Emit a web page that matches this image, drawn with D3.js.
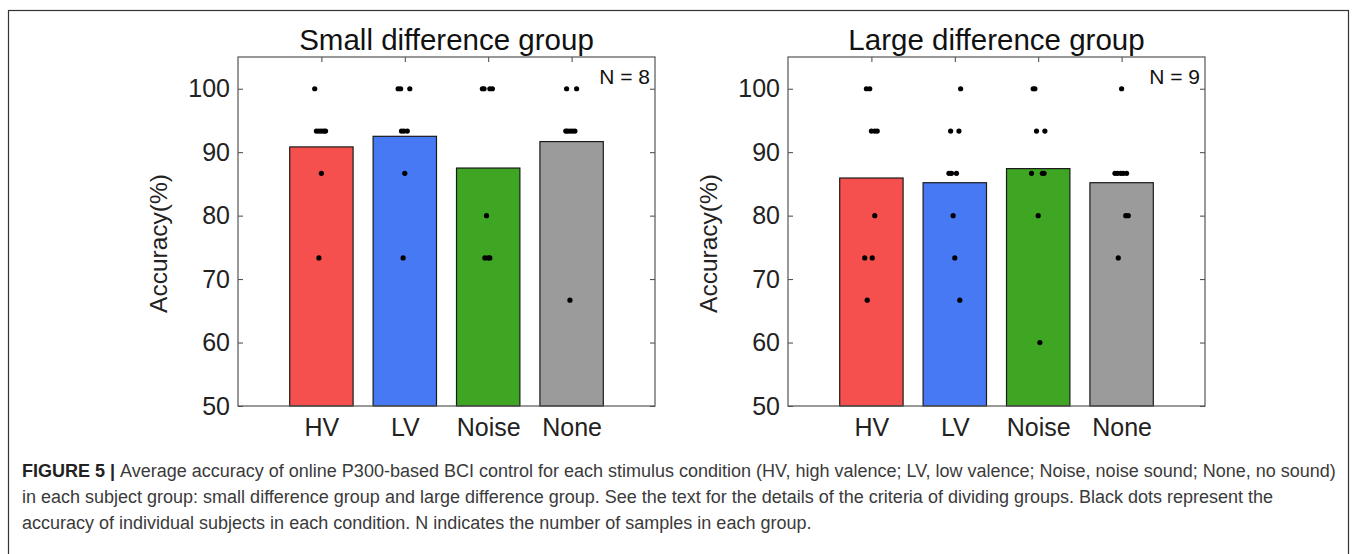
<!DOCTYPE html>
<html>
<head>
<meta charset="utf-8">
<script src="https://cdn.jsdelivr.net/npm/d3@7"></script>
<style>
  body { margin: 0; background: #fff; }
  svg { display: block; }
</style>
</head>
<body>
<script>
const categories = ["HV", "LV", "Noise", "None"];
const barColors = ["#f5504e", "#4879f5", "#3fa624", "#9b9b9b"];
const yTicks = [50, 60, 70, 80, 90, 100];

// group means (%)
const smallMeans = [90.83, 92.5, 87.5, 91.67];
const largeMeans = [85.93, 85.19, 87.41, 85.19];

// individual subjects: [category index, accuracy, x jitter in category units]
const smallSubjects = [
  [0, 100, -0.08], [0, 93.33, -0.06], [0, 93.33, -0.03], [0, 93.33, 0], [0, 93.33, 0.03], [0, 93.33, 0.05],
  [0, 86.67, 0], [0, 73.33, -0.03],
  [1, 100, -0.08], [1, 100, -0.05], [1, 100, 0.06], [1, 93.33, -0.04], [1, 93.33, -0.01], [1, 93.33, 0.03],
  [1, 86.67, 0], [1, 73.33, -0.02],
  [2, 100, -0.07], [2, 100, -0.05], [2, 100, 0.02], [2, 100, 0.05], [2, 80, -0.02],
  [2, 73.33, -0.04], [2, 73.33, 0], [2, 73.33, 0.02],
  [3, 100, -0.06], [3, 100, 0.06], [3, 93.33, -0.07], [3, 93.33, -0.05], [3, 93.33, -0.02], [3, 93.33, 0.01],
  [3, 93.33, 0.04], [3, 66.67, -0.02]
];
const largeSubjects = [
  [0, 100, -0.06], [0, 100, -0.02], [0, 93.33, 0], [0, 93.33, 0.04], [0, 93.33, 0.07], [0, 80, 0.04],
  [0, 73.33, -0.08], [0, 73.33, 0.01], [0, 66.67, -0.05],
  [1, 100, 0.07], [1, 93.33, -0.05], [1, 93.33, 0.05], [1, 86.67, -0.07], [1, 86.67, -0.04], [1, 86.67, 0.02],
  [1, 80, -0.02], [1, 73.33, 0], [1, 66.67, 0.06],
  [2, 100, -0.06], [2, 100, -0.04], [2, 93.33, -0.02], [2, 93.33, 0.08], [2, 86.67, -0.08], [2, 86.67, 0.05],
  [2, 86.67, 0.07], [2, 80, 0], [2, 60, 0.02],
  [3, 100, 0], [3, 86.67, -0.08], [3, 86.67, -0.05], [3, 86.67, -0.01], [3, 86.67, 0.02], [3, 86.67, 0.06],
  [3, 80, 0.05], [3, 80, 0.08], [3, 73.33, -0.04]
];

const panels = [
  { title: "Small difference group", n: "N = 8", means: smallMeans, subjects: smallSubjects, left: 238 },
  { title: "Large difference group", n: "N = 9", means: largeMeans, subjects: largeSubjects, left: 788 }
];

const captionLines = [
  "Average accuracy of online P300-based BCI control for each stimulus condition (HV, high valence; LV, low valence; Noise, noise sound; None, no sound)",
  "in each subject group: small difference group and large difference group. See the text for the details of the criteria of dividing groups. Black dots represent the",
  "accuracy of individual subjects in each condition. N indicates the number of samples in each group."
];

const W = 1357, H = 554;
const font = "'Liberation Sans', Arial, sans-serif";

const svg = d3.select("body").append("svg").attr("width", W).attr("height", H);

// outer frame
svg.append("rect")
  .attr("x", 8.5).attr("y", 10.5)
  .attr("width", 1340).attr("height", 560)
  .attr("fill", "none").attr("stroke", "#333").attr("stroke-width", 1.2);

const plotW = 417, plotTop = 57, plotBottom = 406;

panels.forEach((p) => {
  const x = d3.scaleLinear().domain([0, 5]).range([p.left, p.left + plotW]);
  const y = d3.scaleLinear().domain([50, 105]).range([plotBottom, plotTop]);
  const g = svg.append("g");
  const tickIdx = [1, 2, 3, 4];

  // axes (ticks inside, like MATLAB box)
  g.append("g")
    .attr("transform", `translate(${p.left},0)`)
    .call(d3.axisLeft(y).tickValues(yTicks).tickSize(-5).tickPadding(8));
  g.append("g")
    .attr("transform", `translate(${p.left + plotW},0)`)
    .call(d3.axisRight(y).tickValues(yTicks).tickSize(-5).tickFormat(""));
  g.append("g")
    .attr("transform", `translate(0,${plotTop})`)
    .call(d3.axisTop(x).tickValues(tickIdx).tickSize(-5).tickFormat(""));
  g.append("g")
    .attr("transform", `translate(0,${plotBottom})`)
    .call(d3.axisBottom(x).tickValues(tickIdx).tickSize(-5).tickPadding(12)
      .tickFormat((d) => categories[d - 1]));

  g.selectAll(".domain").remove();
  g.selectAll(".tick line").attr("stroke", "#444").attr("stroke-width", 1);
  g.selectAll(".tick text")
    .attr("fill", "#222")
    .style("font-family", font)
    .style("font-size", "25px");

  // bars
  const bw = 0.76;
  g.append("g").selectAll("rect")
    .data(p.means)
    .join("rect")
    .attr("x", (d, i) => x(i + 1 - bw / 2))
    .attr("y", (d) => y(d))
    .attr("width", x(bw) - x(0))
    .attr("height", (d) => y(50) - y(d))
    .attr("fill", (d, i) => barColors[i])
    .attr("stroke", "#1a1a1a")
    .attr("stroke-width", 1.2);

  // box
  g.append("rect")
    .attr("x", p.left).attr("y", plotTop)
    .attr("width", plotW).attr("height", plotBottom - plotTop)
    .attr("fill", "none").attr("stroke", "#555").attr("stroke-width", 1.2);

  // subject dots
  g.append("g").selectAll("circle")
    .data(p.subjects)
    .join("circle")
    .attr("cx", (d) => x(d[0] + 1 + d[2]))
    .attr("cy", (d) => y(d[1]))
    .attr("r", 2.6)
    .attr("fill", "#000");

  // title
  g.append("text")
    .attr("x", p.left + plotW / 2).attr("y", 50)
    .attr("text-anchor", "middle")
    .style("font-family", font).style("font-size", "29.5px")
    .attr("fill", "#111")
    .text(p.title);

  // y label
  g.append("text")
    .attr("transform", `translate(${p.left - 71},${(plotTop + plotBottom) / 2 + 12}) rotate(-90)`)
    .attr("text-anchor", "middle")
    .style("font-family", font).style("font-size", "24.5px")
    .attr("fill", "#222")
    .text("Accuracy(%)");

  // N label
  g.append("text")
    .attr("x", p.left + plotW - 5).attr("y", 84)
    .attr("text-anchor", "end")
    .style("font-family", font).style("font-size", "21px")
    .attr("fill", "#111")
    .text(p.n);
});

// caption
const cap = svg.append("g")
  .style("font-family", font)
  .style("font-size", "18px")
  .attr("fill", "#3a3a3a");

const lineY = [477, 503, 529];
captionLines.forEach((t, i) => {
  const txt = cap.append("text").attr("x", 22).attr("y", lineY[i]);
  if (i === 0) {
    txt.append("tspan").style("font-weight", "bold").attr("fill", "#222").text("FIGURE 5 | ");
  }
  txt.append("tspan").text(t);
});
</script>
</body>
</html>
